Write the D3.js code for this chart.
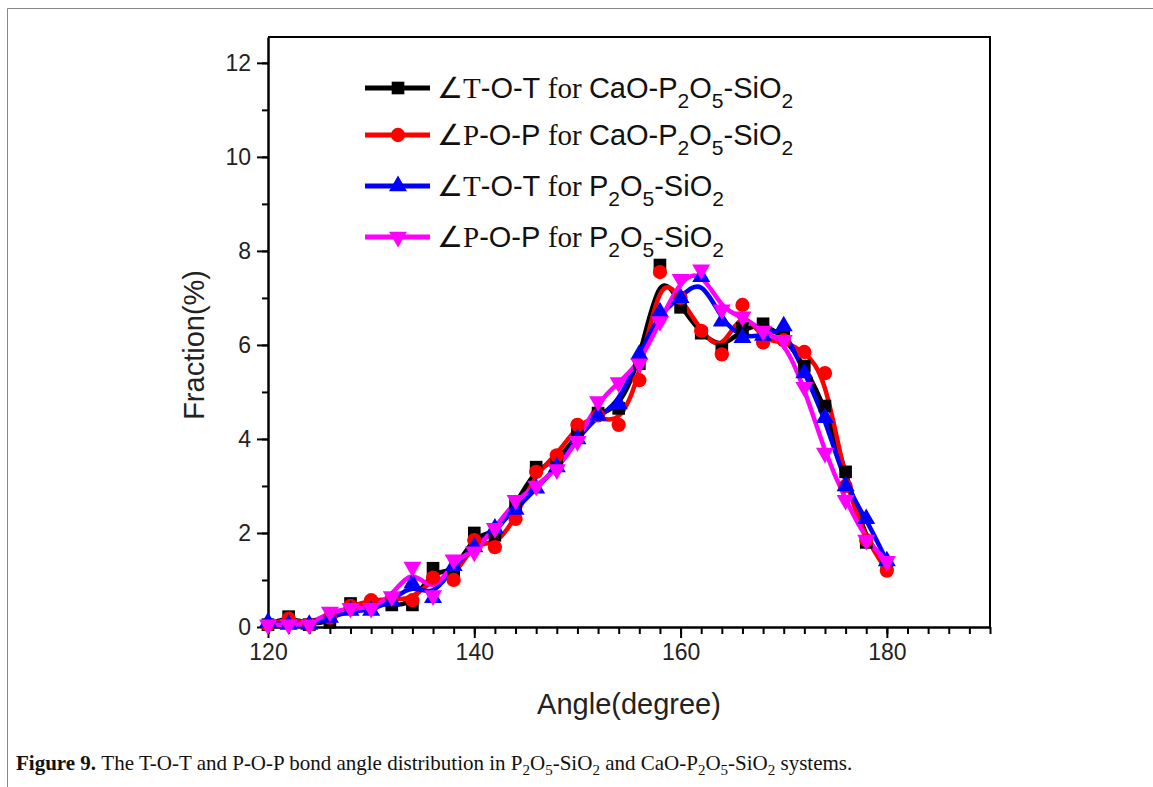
<!DOCTYPE html>
<html>
<head>
<meta charset="utf-8">
<script src="https://cdn.jsdelivr.net/npm/d3@7/dist/d3.min.js"></script>
<style>
  body { margin: 0; background: #fff; }
  svg { display: block; }
  .tick text { font-family: "Liberation Sans", Arial, sans-serif; font-size: 23px; fill: #222; }
</style>
</head>
<body>
<svg id="chart" width="1153" height="787"></svg>
<script>
// bond angle (degree), every 2 degrees
var angles = d3.range(120, 181, 2);

// fraction (%)
var totCaO = [0.05, 0.22, 0.05, 0.1, 0.5, 0.5, 0.47, 0.47, 1.25, 1.1, 2.0, 1.95, 2.6, 3.4, 3.5, 4.1, 4.55, 4.65, 5.6, 7.7, 6.8, 6.25, 5.9, 6.35, 6.45, 6.2, 5.55, 4.7, 3.3, 1.8, 1.35];
var popCaO = [0.05, 0.18, 0.05, 0.2, 0.45, 0.57, 0.6, 0.57, 1.05, 1.0, 1.85, 1.7, 2.3, 3.3, 3.65, 4.3, 4.5, 4.3, 5.25, 7.55, 7.0, 6.3, 5.8, 6.85, 6.05, 6.1, 5.85, 5.4, 3.0, 1.85, 1.2];
var totPSi = [0.1, 0.05, 0.05, 0.2, 0.35, 0.35, 0.55, 0.93, 0.62, 1.3, 1.7, 2.1, 2.5, 2.95, 3.4, 4.0, 4.5, 4.75, 5.8, 6.7, 7.0, 7.45, 6.5, 6.15, 6.2, 6.4, 5.4, 4.45, 3.0, 2.3, 1.4];
var popPSi = [0.05, 0.05, 0.05, 0.32, 0.4, 0.4, 0.65, 1.28, 0.67, 1.43, 1.6, 2.1, 2.7, 3.0, 3.35, 3.95, 4.8, 5.2, 5.6, 6.5, 7.4, 7.6, 6.75, 6.6, 6.3, 6.1, 5.1, 3.7, 2.7, 1.85, 1.4];

var xTicks = [120, 140, 160, 180];
var yTicks = [0, 2, 4, 6, 8, 10, 12];

var series = [
  {values: totCaO, color: "#000000", sym: d3.symbolSquare, size: 160, angle: "T-O-T", sys: "CaO"},
  {values: popCaO, color: "#ff0000", sym: d3.symbolCircle, size: 160, angle: "P-O-P", sys: "CaO"},
  {values: totPSi, color: "#0000ff", sym: d3.symbolTriangle, size: 140, angle: "T-O-T", sys: ""},
  {values: popPSi, color: "#ff00ff", sym: "down", size: 140, angle: "P-O-P", sys: ""}
];

var margin = {top: 37, right: 163, bottom: 160, left: 268},
    width = 1153 - margin.left - margin.right,
    height = 787 - margin.top - margin.bottom;

var svg = d3.select("#chart");

// outer figure border
svg.append("path")
    .attr("d", "M7.5,787 V8.5 H1153")
    .attr("fill", "none")
    .attr("stroke", "#888")
    .attr("stroke-width", 1);

var chart = svg.append("g")
    .attr("transform", "translate(" + margin.left + "," + margin.top + ")");

var x = d3.scaleLinear().domain([120, 190]).range([0, width]);
var y = d3.scaleLinear().domain([0, 12.55]).range([height, 0]);

// frame top + right
chart.append("path")
    .attr("d", "M0,0 H" + width + " V" + height)
    .attr("fill", "none")
    .attr("stroke", "#000")
    .attr("stroke-width", 2);

// minor ticks
chart.append("g")
    .attr("transform", "translate(0," + height + ")")
    .call(d3.axisBottom(x).tickValues(d3.range(120, 191, 2)).tickSize(7).tickFormat(""))
    .call(function(g) { g.select(".domain").remove(); g.selectAll("line").attr("stroke-width", 2); });

chart.append("g")
    .call(d3.axisLeft(y).tickValues(d3.range(0, 13, 1)).tickSize(6).tickFormat(""))
    .call(function(g) { g.select(".domain").remove(); g.selectAll("line").attr("stroke-width", 2); });

var xAxis = chart.append("g")
    .attr("transform", "translate(0," + height + ")")
    .call(d3.axisBottom(x).tickValues(xTicks).tickSize(11).tickSizeOuter(0).tickPadding(6));

var yAxis = chart.append("g")
    .call(d3.axisLeft(y).tickValues(yTicks).tickSize(11).tickSizeOuter(0).tickPadding(6));

[xAxis, yAxis].forEach(function(a) {
  a.select(".domain").attr("stroke-width", 2.5);
  a.selectAll(".tick line").attr("stroke-width", 2);
});

chart.append("text")
    .attr("x", x(155))
    .attr("y", height + 87)
    .attr("text-anchor", "middle")
    .style("font-family", "Liberation Sans, Arial, sans-serif")
    .style("font-size", "29px")
    .style("fill", "#222")
    .text("Angle(degree)");

chart.append("text")
    .attr("transform", "translate(-64," + y(6) + ") rotate(-90)")
    .attr("text-anchor", "middle")
    .style("font-family", "Liberation Sans, Arial, sans-serif")
    .style("font-size", "29px")
    .style("fill", "#222")
    .text("Fraction(%)");

function symbolPath(s) {
  if (s.sym === "down") {
    return d3.symbol().type(d3.symbolTriangle).size(s.size)();
  }
  return d3.symbol().type(s.sym).size(s.size)();
}

var line = d3.line()
    .x(function(d, i) { return x(angles[i]); })
    .y(function(d) { return y(d); })
    .curve(d3.curveBasis);

series.forEach(function(s) {
  chart.append("path")
      .datum(s.values)
      .attr("fill", "none")
      .attr("stroke", s.color)
      .attr("stroke-width", 4.5)
      .attr("d", line);
});

series.forEach(function(s) {
  chart.selectAll(null)
      .data(s.values)
    .enter().append("path")
      .attr("d", symbolPath(s))
      .attr("transform", function(d, i) {
        return "translate(" + x(angles[i]) + "," + y(d) + ")" + (s.sym === "down" ? " rotate(180)" : "");
      })
      .attr("fill", s.color);
});

// legend
var legY = [88, 135, 186, 237];
var legend = svg.append("g");
series.forEach(function(s, i) {
  var g = legend.append("g").attr("transform", "translate(0," + legY[i] + ")");
  g.append("line")
      .attr("x1", 365).attr("x2", 430)
      .attr("stroke", s.color).attr("stroke-width", 5);
  g.append("path")
      .attr("d", symbolPath(s))
      .attr("transform", "translate(398,0)" + (s.sym === "down" ? " rotate(180)" : ""))
      .attr("fill", s.color);
  var t = g.append("text")
      .attr("x", 437).attr("y", 10)
      .style("font-family", "Liberation Sans, Arial, sans-serif")
      .style("font-size", "29px")
      .style("fill", "#111");
  t.append("tspan").style("font-family", "Liberation Serif, Times New Roman, serif")
      .text("\u2220" + s.angle.charAt(0));
  t.append("tspan").text(s.angle.slice(1) + " ");
  t.append("tspan").style("font-family", "Liberation Serif, Times New Roman, serif").text("for ");
  if (s.sys) t.append("tspan").text(s.sys + "-");
  t.append("tspan").text("P");
  t.append("tspan").attr("dy", 10).style("font-size", "21px").text("2");
  t.append("tspan").attr("dy", -10).text("O");
  t.append("tspan").attr("dy", 10).style("font-size", "21px").text("5");
  t.append("tspan").attr("dy", -10).text("-SiO");
  t.append("tspan").attr("dy", 10).style("font-size", "21px").text("2");
});

// caption
var cap = svg.append("text")
    .attr("x", 16).attr("y", 770)
    .style("font-family", "Liberation Serif, Times New Roman, serif")
    .style("font-size", "21px")
    .style("fill", "#111");
cap.append("tspan").style("font-weight", "bold").text("Figure 9. ");
var capParts = [["The T-O-T and P-O-P bond angle distribution in P", 0], ["2", 1], ["O", 0], ["5", 1], ["-SiO", 0], ["2", 1],
  [" and CaO-P", 0], ["2", 1], ["O", 0], ["5", 1], ["-SiO", 0], ["2", 1], [" systems.", 0]];
var prevSub = 0;
capParts.forEach(function(p) {
  var dy = (p[1] - prevSub) * 5;
  cap.append("tspan").attr("dy", dy).style("font-size", p[1] ? "15px" : "21px").text(p[0]);
  prevSub = p[1];
});
</script>
</body>
</html>
